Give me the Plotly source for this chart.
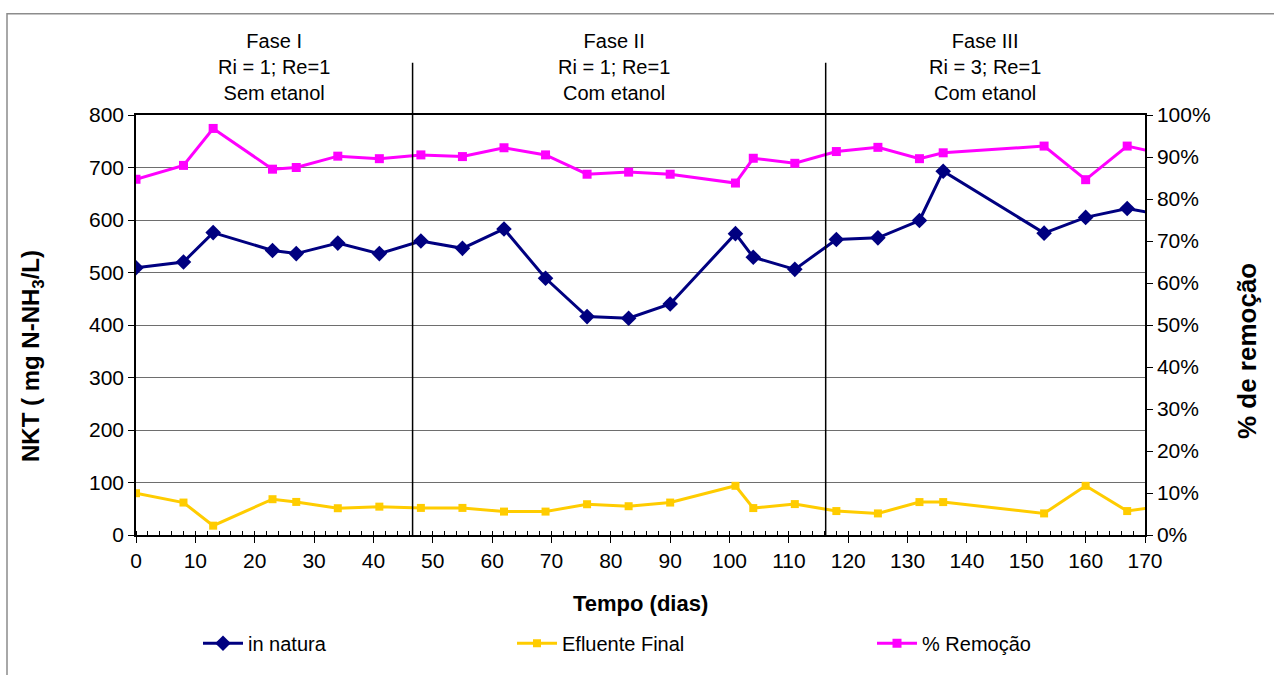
import plotly.graph_objects as go

# Sampling days and measured series
dias = [0, 8, 13, 23, 27, 34, 41, 48, 55, 62, 69, 76, 83, 90, 101, 104, 111,
        118, 125, 132, 136, 153, 160, 167, 174]
in_natura = [509, 520, 576, 542, 536, 556, 536, 560, 546, 583, 489, 416, 413, 440,
             574, 529, 506, 563, 566, 599, 693, 575, 605, 622, 607]
efluente_final = [79.6, 61.8, 17.8, 68.2, 63, 51, 54, 51.6, 51.6, 44.6, 44.6, 58.6,
                  54.8, 61.8, 93.7, 51.3, 58.9, 45.6, 41.1, 62.7, 62.7, 41.1, 93.7,
                  45.6, 57]
remocao = [0.847, 0.880, 0.968, 0.871, 0.875, 0.902, 0.896, 0.905, 0.901, 0.922,
           0.905, 0.859, 0.864, 0.859, 0.838, 0.897, 0.885, 0.913, 0.923, 0.896,
           0.910, 0.926, 0.846, 0.926, 0.904]

# Phase boundaries (days) and phase captions
limites_fase = [46.6, 116.2]
fases = ["Fase I<br>Ri = 1; Re=1<br>Sem etanol",
         "Fase II<br>Ri = 1; Re=1<br>Com etanol",
         "Fase III<br>Ri = 3; Re=1<br>Com etanol"]
fase_centros = [23.3, 80.5, 143.1]

FONT = "Liberation Sans, Arial, sans-serif"
W, H = 1274, 675
L, R, T, B = 136, 129, 115, 133
PW, PH = W - L - R, H - T - B


def px_x(x):
    return (x - L) / PW


def px_y(y):
    return (H - B - y) / PH


fig = go.Figure()

fig.add_trace(go.Scatter(
    x=dias, y=in_natura, name="in natura", mode="lines+markers",
    line=dict(color="#000080", width=3),
    marker=dict(symbol="diamond", size=12, color="#000080"),
    legend="legend"))
fig.add_trace(go.Scatter(
    x=dias, y=efluente_final, name="Efluente Final", mode="lines+markers",
    line=dict(color="#FFCC00", width=3),
    marker=dict(symbol="square", size=8, color="#FFCC00"),
    legend="legend2"))
fig.add_trace(go.Scatter(
    x=dias, y=remocao, name="% Remoção", mode="lines+markers",
    line=dict(color="#FF00FF", width=3),
    marker=dict(symbol="square", size=9, color="#FF00FF"),
    yaxis="y2", legend="legend3"))

shapes = []
for d in limites_fase:
    shapes.append(dict(type="line", xref="x", yref="paper", x0=d, x1=d,
                       y0=0, y1=px_y(62), line=dict(color="black", width=1.5)))
# outer chart frame
shapes.append(dict(type="rect", xref="paper", yref="paper",
                   x0=px_x(7), x1=px_x(1290), y0=px_y(690), y1=px_y(12),
                   line=dict(color="#8c8c8c", width=1.5), layer="below"))

annotations = []
for txt, c in zip(fases, fase_centros):
    annotations.append(dict(text=txt, x=c, xref="x", y=px_y(66), yref="paper",
                            showarrow=False, xanchor="center", yanchor="middle",
                            font=dict(family=FONT, size=20, color="black")))
annotations.append(dict(text="<b>Tempo (dias)</b>", x=0.5, xref="paper",
                        y=px_y(612), yref="paper", showarrow=False,
                        xanchor="center", yanchor="middle",
                        font=dict(family=FONT, size=22, color="black")))
annotations.append(dict(text="<b>NKT ( mg N-NH<sub>3</sub>/L)</b>", x=px_x(33),
                        xref="paper", y=px_y(360), yref="paper", textangle=-90,
                        showarrow=False, xanchor="center", yanchor="middle",
                        font=dict(family=FONT, size=24, color="black")))
annotations.append(dict(text="<b>% de remoção</b>", x=px_x(1247), xref="paper",
                        y=px_y(355), yref="paper", textangle=-90,
                        showarrow=False, xanchor="center", yanchor="middle",
                        font=dict(family=FONT, size=26, color="black")))

legend_common = dict(orientation="h", yanchor="middle", xanchor="left",
                     bgcolor="rgba(0,0,0,0)", borderwidth=0, itemwidth=40,
                     font=dict(family=FONT, size=20, color="black"))

fig.update_layout(
    width=W, height=H,
    margin=dict(l=L, r=R, t=T, b=B),
    paper_bgcolor="white", plot_bgcolor="white",
    showlegend=True,
    font=dict(family=FONT, size=21, color="black"),
    xaxis=dict(range=[0, 170], dtick=10, tick0=0, showgrid=False,
               showline=True, linecolor="black", linewidth=1.5, mirror=True,
               ticks="outside", ticklen=6, tickcolor="black",
               minor=dict(ticks="inside", dtick=2, ticklen=4, tickcolor="black"),
               tickfont=dict(family=FONT, size=21), zeroline=False),
    yaxis=dict(range=[0, 800], dtick=100, showgrid=True, gridcolor="#6e6e6e",
               gridwidth=1, showline=True, linecolor="black", linewidth=1.5,
               mirror=True, ticks="outside", ticklen=6, tickcolor="black",
               tickfont=dict(family=FONT, size=21), zeroline=False),
    yaxis2=dict(range=[0, 1], dtick=0.1, tickformat=".0%", overlaying="y",
                side="right", showgrid=False, showline=True, linecolor="black",
                linewidth=1.5, ticks="outside", ticklen=6, tickcolor="black",
                tickfont=dict(family=FONT, size=21), zeroline=False),
    legend=dict(x=px_x(198), y=px_y(652), **legend_common),
    legend2=dict(x=px_x(512), y=px_y(652), **legend_common),
    legend3=dict(x=px_x(872), y=px_y(652), **legend_common),
    shapes=shapes, annotations=annotations,
)

fig.write_html("out.html")
